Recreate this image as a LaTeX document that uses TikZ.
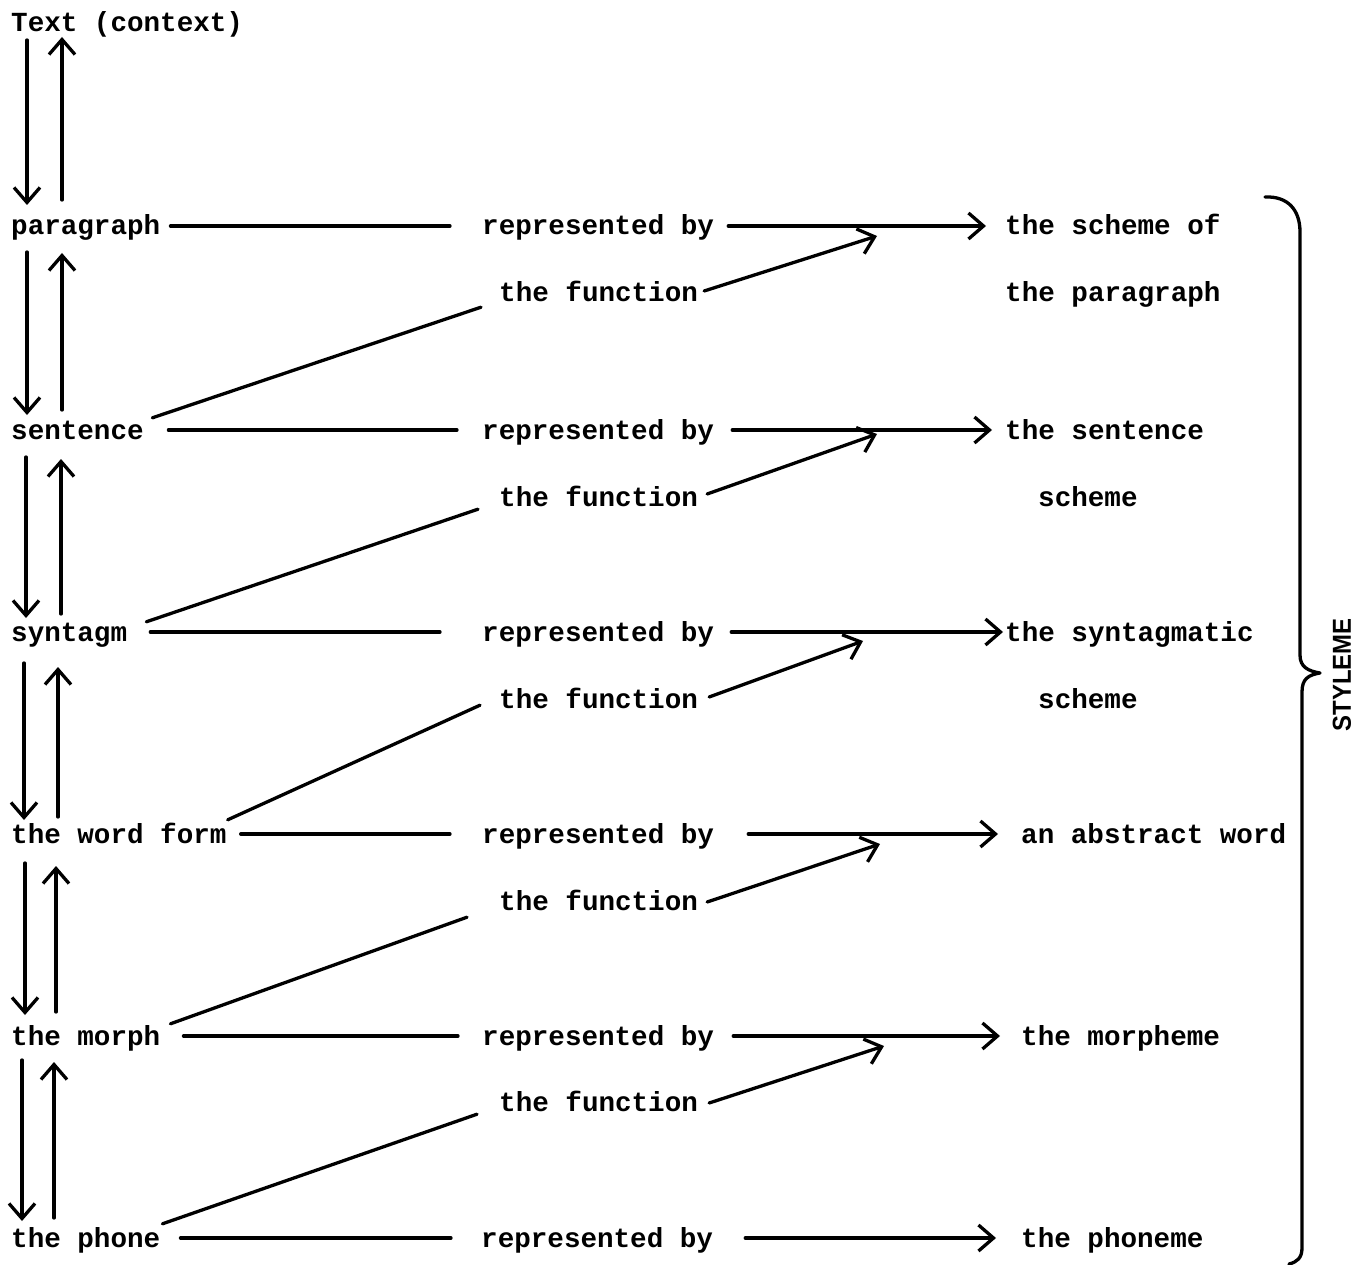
\documentclass[tikz,border=0pt]{standalone}
\usepackage{fontspec}
\usetikzlibrary{arrows.meta}
\newfontfamily\typewriter{Liberation Mono}
\newfontfamily\labelsans{Liberation Sans}

\tikzset{
  lbl/.style={anchor=west, inner sep=0pt, text height=23pt, text depth=5pt,
    font=\typewriter\bfseries\fontsize{27.6}{30}\selectfont},
  ln/.style={line width=3.3pt, line cap=round},
  arr/.style={ln, -{Straight Barb[length=15pt, width=26pt]}},
}

% vertical pair of arrows between two levels:
% #1 upper node, #2 lower node, #3 x of down arrow, #4/#5 its start/end offsets,
% #6 x of up arrow, #7/#8 its start/end offsets
\newcommand\levelpair[8]{%
  \draw[arr] ([shift={(#3,#4)}]#1.west) -- ([shift={(#3,#5)}]#2.west);
  \draw[arr] ([shift={(#6,#7)}]#2.west) -- ([shift={(#6,#8)}]#1.west);
}

\begin{document}
\begin{tikzpicture}[x=1pt, y=-1pt]
\useasboundingbox (0,0) rectangle (1366,1265);

% levels of the text
\node[lbl] (txt)   at (11,23)   {Text (context)};
\node[lbl] (par)   at (11,226)  {paragraph};
\node[lbl] (sen)   at (11,430)  {sentence};
\node[lbl] (syn)   at (11,632)  {syntagm};
\node[lbl] (wfm)   at (11,834)  {the word form};
\node[lbl] (mor)   at (11,1036) {the morph};
\node[lbl] (pho)   at (11,1238) {the phone};

% middle column
\node[lbl] (rep1) at (482,226)  {represented by};
\node[lbl] (rep2) at (482,430)  {represented by};
\node[lbl] (rep3) at (482,632)  {represented by};
\node[lbl] (rep4) at (482,834)  {represented by};
\node[lbl] (rep5) at (482,1036) {represented by};
\node[lbl] (rep6) at (481,1238) {represented by};

\node[lbl] (fun1) at (499,293)  {the function};
\node[lbl] (fun2) at (499,497)  {the function};
\node[lbl] (fun3) at (499,699)  {the function};
\node[lbl] (fun4) at (499,901)  {the function};
\node[lbl] (fun5) at (499,1102) {the function};

% units of the styleme
\node[lbl] (sch1)  at (1005,226)  {the scheme of};
\node[lbl] (sch1b) at (1005,293)  {the paragraph};
\node[lbl] (sch2)  at (1005,430)  {the sentence};
\node[lbl] (sch2b) at (1038,497)  {scheme};
\node[lbl] (sch3)  at (1005,632)  {the syntagmatic};
\node[lbl] (sch3b) at (1038,699)  {scheme};
\node[lbl] (sch4)  at (1021,834)  {an abstract word};
\node[lbl] (sch5)  at (1021,1036) {the morpheme};
\node[lbl] (sch6)  at (1021,1238) {the phoneme};

% up and down between the levels
\levelpair{txt}{par}{16}{17}{-21}{51}{-26}{14}
\levelpair{par}{sen}{16}{26}{-15}{51}{-20}{27}
\levelpair{sen}{syn}{15}{27}{-14}{50}{-18}{29}
\levelpair{syn}{wfm}{13}{31}{-14}{47}{-17}{35}
\levelpair{wfm}{mor}{14}{29}{-21}{45}{-24}{32}
\levelpair{mor}{pho}{11}{24}{-17}{43}{-20}{26}

% level -- represented by
\draw[ln, shorten <=10pt,   shorten >=32pt] (par) -- (rep1);
\draw[ln, shorten <=24.5pt, shorten >=25pt] (sen) -- (rep2);
\draw[ln, shorten <=23pt,   shorten >=42pt] (syn) -- (rep3);
\draw[ln, shorten <=14pt,   shorten >=32pt] (wfm) -- (rep4);
\draw[ln, shorten <=23pt,   shorten >=24pt] (mor) -- (rep5);
\draw[ln, shorten <=20pt,   shorten >=30pt] (pho) -- (rep6);

% represented by --> unit
\draw[arr, shorten <=14pt] (rep1) -- ([xshift=-19pt]sch1.west);
\draw[arr, shorten <=18pt] (rep2) -- ([xshift=-13pt]sch2.west);
\draw[arr, shorten <=17pt] (rep3) -- ([xshift=-2pt]sch3.west);
\draw[arr, shorten <=34pt] (rep4) -- ([xshift=-23pt]sch4.west);
\draw[arr, shorten <=19pt] (rep5) -- ([xshift=-21pt]sch5.west);
\draw[arr, shorten <=32pt] (rep6) -- ([xshift=-25pt]sch6.west);

% lower level -- the function
\draw[ln] ([shift={(8.5,2)}]sen.north east) -- ([shift={(-18,0)}]fun1.south west);
\draw[ln] ([shift={(19,4)}]syn.north east)  -- ([shift={(-21,-2)}]fun2.south west);
\draw[ln] ([shift={(1,0)}]wfm.north east)   -- ([shift={(-19,-8)}]fun3.south west);
\draw[ln] ([shift={(10,2)}]mor.north east)  -- ([shift={(-32,2)}]fun4.south west);
\draw[ln] ([shift={(2,0)}]pho.north east)   -- ([shift={(-22,-2)}]fun5.south west);

% the function --> onto the representation arrow
\coordinate (h1) at (877,236);
\coordinate (h2) at (877,434);
\coordinate (h3) at (863,641);
\coordinate (h4) at (880,844);
\coordinate (h5) at (884,1046);
\draw[arr] ([shift={(6,-2)}]fun1.east)  -- (h1);
\draw[arr] ([shift={(9,-3)}]fun2.east)  -- (h2);
\draw[arr] ([shift={(11,-2)}]fun3.east) -- (h3);
\draw[arr] ([shift={(9,1)}]fun4.east)   -- (h4);
\draw[arr] ([shift={(11,1)}]fun5.east)  -- (h5);

% brace gathering the units
\draw[line width=3.3pt, line cap=round, line join=round]
  (1265,197) .. controls (1288,196) and (1300,210) .. (1300,232)
  -- (1300,655) .. controls (1300,667) and (1308,671) .. (1320,673)
  .. controls (1308,675) and (1302,679) .. (1302,692)
  -- (1302,1248) .. controls (1302,1258) and (1297,1262) .. (1289,1264);
\node[rotate=90, inner sep=0pt, font=\labelsans\bfseries\fontsize{26}{28}\selectfont]
  (sty) at (1342,675) {\scalebox{0.92}[1]{STYLEME}};
\end{tikzpicture}
\end{document}
